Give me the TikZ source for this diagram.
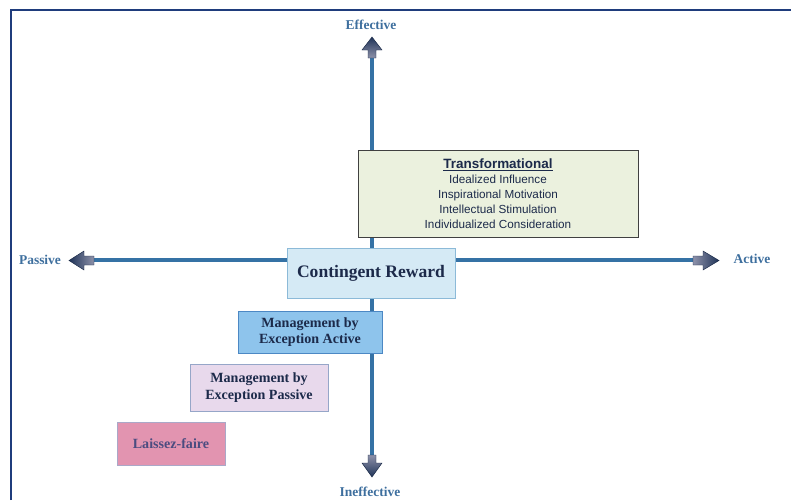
\documentclass[tikz,border=0pt]{standalone}
\usepackage{fontspec}
\setmainfont{Liberation Serif}
\setsansfont{Liberation Sans}
\usepackage{tikz}
\usetikzlibrary{positioning}

\definecolor{framecol}{HTML}{1F3C7C}
\definecolor{axiscol}{HTML}{3572A5}
\definecolor{labcol}{HTML}{3E6F9E}
\definecolor{boxtext}{HTML}{1C2A4A}
\definecolor{tipdark}{HTML}{1F3358}
\definecolor{tipgray}{HTML}{8E92AA}

\tikzset{
	axislabel/.style={font=\fontsize{11.5}{13}\selectfont\bfseries, text=labcol},
	stylebox/.style={rectangle, inner sep=0pt, align=center, text=boxtext, line width=0.6pt},
	tipdraw/.style={draw=tipdark!80!black, line width=0.4pt},
}

\begin{document}
\begin{tikzpicture}[x=0.03cm, y=-0.03cm]
	\useasboundingbox (0,0) rectangle (791,500);

	% Frame
	\draw[framecol, line width=2pt] (11,500) -- (11,10) -- (791,10);

	% Draw axes
	%Y
	\coordinate (ytop) at (372,56);
	\coordinate (ybot) at (372,457);
	\draw[axiscol, line width=3pt] (ytop) -- (ybot);
	%X
	\coordinate (xleft) at (92,260);
	\coordinate (xright) at (696,260);
	\draw[axiscol, line width=3pt] (xleft) -- (xright);

	% Arrow heads
	\shadedraw[tipdraw, top color=tipdark, bottom color=tipgray]
		(368,58) -- (368,50) -- (362,50) -- (372,37) -- (382,50) -- (376,50) -- (376,58) -- cycle;
	\shadedraw[tipdraw, top color=tipgray, bottom color=tipdark]
		(368,455) -- (368,463) -- (362,463) -- (372,477) -- (382,463) -- (376,463) -- (376,455) -- cycle;
	\shadedraw[tipdraw, left color=tipdark, right color=tipgray]
		(94,256) -- (84,256) -- (84,251) -- (69,260.5) -- (84,270) -- (84,265) -- (94,265) -- cycle;
	\shadedraw[tipdraw, left color=tipgray, right color=tipdark]
		(693,256) -- (703,256) -- (703,251) -- (719,260.5) -- (703,270) -- (703,265) -- (693,265) -- cycle;

	% Axis labels
	\node[axislabel] (eff) at (371,25) {Effective};
	\node[axislabel] (ineff) at (370,492) {Ineffective};
	\node[axislabel] (pas) at (40,260) {Passive};
	\node[axislabel] (act) at (752,259) {Active};

	% Leadership styles
	\node[stylebox, draw=black!75, fill={rgb,255:red,235;green,241;blue,222},
		minimum width=8.4cm, minimum height=2.61cm,
		font=\sffamily\fontsize{10}{12.8}\selectfont] (trans) at (498,193.5)
		{{\fontsize{11.5}{12.8}\selectfont\bfseries\underline{Transformational}}\\
		 Idealized Influence\\ Inspirational Motivation\\
		 Intellectual Stimulation\\ Individualized Consideration};

	\node[stylebox, draw={rgb,255:red,140;green,186;blue,216}, fill={rgb,255:red,213;green,234;blue,245},
		minimum width=5.04cm, minimum height=1.5cm,
		font=\fontsize{15}{16}\selectfont\bfseries] (cont) at (371,273) {Contingent Reward};

	\node[stylebox, draw={rgb,255:red,76;green,136;blue,196}, fill={rgb,255:red,142;green,196;blue,236},
		minimum width=4.32cm, minimum height=1.26cm,
		font=\fontsize{12}{14}\selectfont\bfseries] (mbea) at (310,332)
		{Management by\\ Exception Active};

	\node[stylebox, draw={rgb,255:red,150;green,166;blue,200}, fill={rgb,255:red,232;green,217;blue,236},
		minimum width=4.14cm, minimum height=1.41cm,
		font=\fontsize{12}{14}\selectfont\bfseries] (mbep) at (259,387.5)
		{Management by\\ Exception Passive};

	\node[stylebox, draw={rgb,255:red,170;green,168;blue,200}, fill={rgb,255:red,226;green,148;blue,176},
		minimum width=3.24cm, minimum height=1.29cm, text={rgb,255:red,76;green,76;blue,128},
		font=\fontsize{12}{14}\selectfont\bfseries] (laissez) at (171,443.5) {Laissez-faire};

\end{tikzpicture}
\end{document}
